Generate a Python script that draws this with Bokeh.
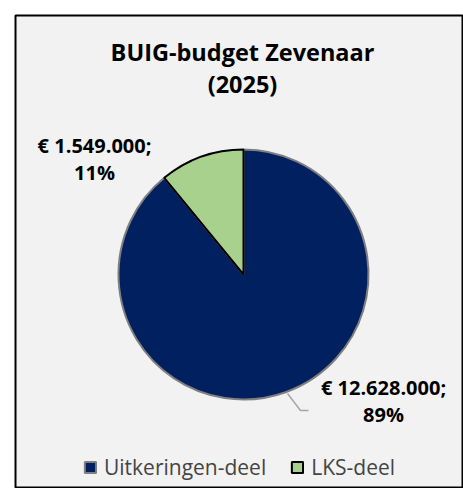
import math
from bokeh.plotting import figure
from bokeh.models import Range1d, ColumnDataSource, Legend, LegendItem, Label
from bokeh.core.properties import value
from bokeh.embed import file_html
from bokeh.resources import INLINE

# ---- data ----
title_lines = ["BUIG-budget Zevenaar", "(2025)"]
categories = ["Uitkeringen-deel", "LKS-deel"]
amounts = [12628000, 1549000]
colors = ["#002060", "#a9d18e"]
edge_colors = ["#7f7f7f", "#000000"]

FONT = "Open Sans"

def fmt_eur(v):
    return "€ " + f"{v:,}".replace(",", ".") + ";"

total = sum(amounts)
fracs = [a / total for a in amounts]
pcts = [f"{round(f * 100)}%" for f in fracs]

# Excel-style pie: start at 12 o'clock, go clockwise
starts, ends = [], []
cur = math.pi / 2
for f in fracs:
    end = cur
    start = cur - f * 2 * math.pi
    starts.append(start)
    ends.append(end)
    cur = start

src = ColumnDataSource(dict(cat=categories, amt=amounts, start=starts, end=ends,
                            color=colors, edge=edge_colors))

W, H = 463, 488
S = 125.0  # px per unit (radius = 1)
cx, cy = 243, 274   # pie centre in page px
bl, bt = 15, 15
x_range = Range1d(-(cx - bl) / S, (W - cx) / S)
y_range = Range1d(-(H - cy) / S, (cy - bt) / S)

p = figure(width=W, height=H, x_range=x_range, y_range=y_range,
           output_backend="svg", toolbar_location=None,
           min_border_left=bl, min_border_top=bt, min_border_right=0, min_border_bottom=0)
p.border_fill_color = "white"
p.background_fill_color = "#f2f2f2"
p.outline_line_color = "black"
p.outline_line_width = 2
p.axis.visible = False
p.grid.visible = False

r = p.wedge(x=0, y=0, radius=1, start_angle="start", end_angle="end", source=src,
            fill_color="color", line_color="edge", line_width=2, direction="anticlock")

# title
for i, t in enumerate(title_lines):
    p.add_layout(Label(x=(242 - cx) / S, y=(cy - (51 + 32 * i)) / S, text=t,
                       text_font=FONT, text_font_style="bold", text_font_size="23.5px",
                       text_align="center", text_baseline="middle", text_color="#000000"))

# data labels
lab_pos = [((94 - cx) / S, (cy - 145) / S), ((383 - cx) / S, (cy - 387) / S)]
lab_pos = [lab_pos[1], lab_pos[0]]
for (lx, ly), a, pc in zip(lab_pos, amounts, pcts):
    for j, t in enumerate([fmt_eur(a), pc]):
        p.text(x=[lx], y=[ly - j * 27 / S], text=[t], text_font=value(FONT),
               text_font_style="bold", text_font_size="20px", text_align="center",
               text_baseline="middle", text_color="#000000")

# leader line for large slice label
lxs = [(287 - cx) / S, (300 - cx) / S, (308 - cx) / S]
lys = [(cy - 393) / S, (cy - 410) / S, (cy - 410) / S]
p.line(x=lxs, y=lys, line_color="#a6a6a6", line_width=1.5)

legend = Legend(items=[LegendItem(label=c, renderers=[r], index=i) for i, c in enumerate(categories)],
                orientation="horizontal", location="bottom_center",
                background_fill_alpha=0, border_line_color=None,
                label_text_font=FONT, label_text_font_size="21px",
                glyph_width=14, glyph_height=14, label_standoff=7, spacing=24,
                margin=7, padding=2)
p.add_layout(legend)

open("out.html", "w").write(file_html(p, INLINE))
